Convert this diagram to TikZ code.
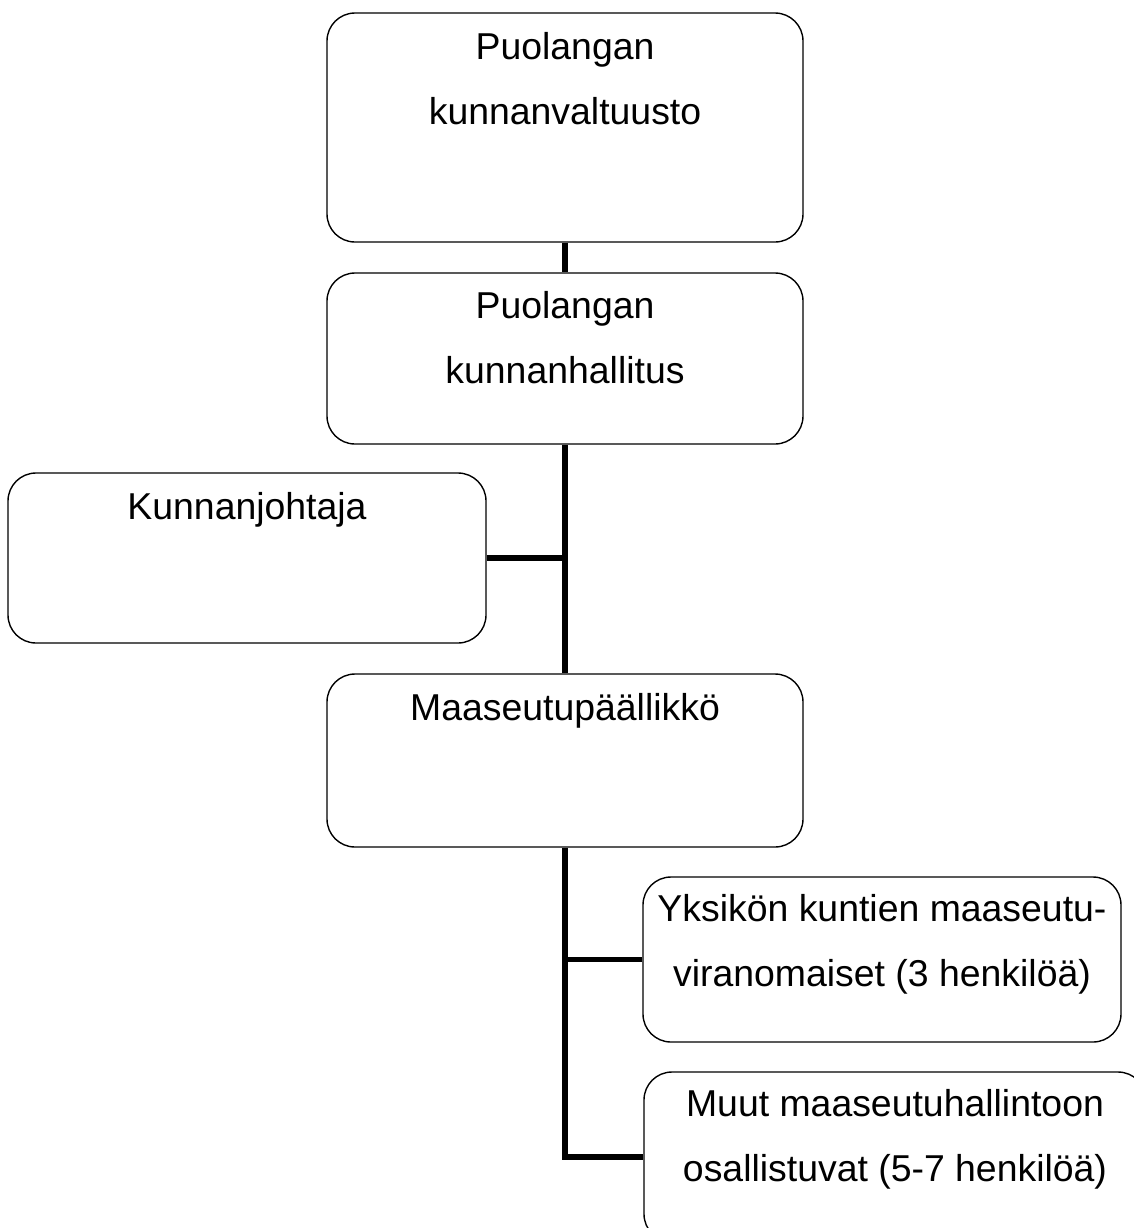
\documentclass[tikz,border=0pt]{standalone}
\usepackage{fontspec}
\setmainfont{Liberation Sans}
\usepackage{tikz}
\usetikzlibrary{positioning}

\tikzset{
  laatikko/.style={draw, rounded corners=14pt, line width=0.7pt, minimum width=238pt, inner sep=0pt},
  teksti/.style={inner sep=0pt, align=center, font=\fontsize{18.7pt}{32.5pt}\selectfont},
  yhteys/.style={line width=2.6pt}
}

\begin{document}
\begin{tikzpicture}[x=0.5pt, y=-0.5pt]
    \useasboundingbox (0,0) rectangle (1134,1228);
    % laatikot
    \node[laatikko, minimum height=114.5pt] (valtuusto) at (565,127.5) {};
    \node[laatikko, minimum height=85.5pt] (hallitus) at (565,358.5) {};
    \node[laatikko, minimum width=239pt, minimum height=85pt] (johtaja) at (247,558) {};
    \node[laatikko, minimum height=86.5pt] (paallikko) at (565,760.5) {};
    \node[laatikko, minimum width=239pt, minimum height=82.5pt] (yksikko) at (882,959.5) {};
    \node[laatikko, minimum width=251pt, minimum height=85pt] (muut) at (895,1157) {};
    % tekstit
    \node[teksti, below=9.7pt of valtuusto.north] (valtuustoteksti) {Puolangan\\kunnanvaltuusto};
    \node[teksti, below=9.2pt of hallitus.north] (hallitusteksti) {Puolangan\\kunnanhallitus};
    \node[teksti, below=9.7pt of johtaja.north] (johtajateksti) {Kunnanjohtaja};
    \node[teksti, below=9.7pt of paallikko.north] (paallikkoteksti) {Maaseutupäällikkö};
    \node[teksti, below=8.7pt of yksikko.north] (yksikkoteksti) {Yksikön kuntien maaseutu-\\viranomaiset (3 henkilöä)};
    \node[teksti, below=8.7pt of muut.north] (muutteksti) {Muut maaseutuhallintoon\\osallistuvat (5-7 henkilöä)};
    % yhteydet
    \draw[yhteys] (valtuusto.south) -- (hallitus.north);
    \draw[yhteys] (hallitus.south) -- (paallikko.north);
    \draw[yhteys] (johtaja.east) -- (johtaja.east -| hallitus.south);
    \draw[yhteys] (paallikko.south) |- (muut.west);
    \draw[yhteys] (yksikko.west) -- (yksikko.west -| paallikko.south);
\end{tikzpicture}
\end{document}
